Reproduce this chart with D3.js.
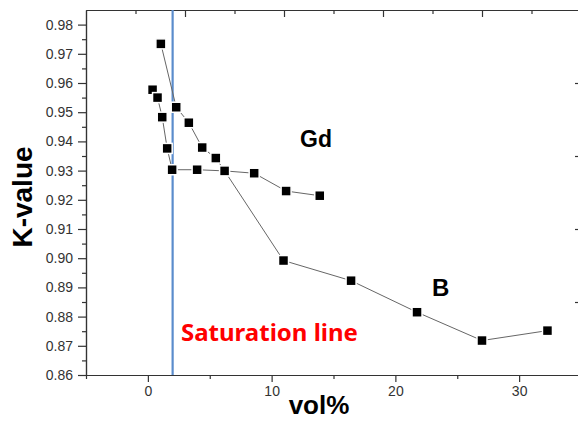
<!DOCTYPE html>
<html>
<head>
    <meta charset="UTF-8">
    <title>K-value vs vol%</title>
    <script src="https://d3js.org/d3.v7.min.js"></script>
    <style>
        body { margin: 0; background: #fff; }
        .axis path, .axis line { stroke: #333; stroke-width: 1.2px; }
        .axis text { font-family: Arial, "Liberation Sans", sans-serif; font-size: 14px; fill: #333; }
        .series { fill: none; stroke: #666; stroke-width: 1px; }
        .marker { fill: #000; stroke: #fff; stroke-width: 1.5px; }
    </style>
</head>
<body>
    <svg width="578" height="421"></svg>
    <script>
        // data
        var gdVol = [0.38, 0.78, 1.16, 1.56, 1.96, 3.98, 6.2, 8.59, 11.17, 13.89];
        var gdK   = [0.9577, 0.955, 0.9483, 0.9376, 0.9303, 0.9303, 0.9299, 0.9291, 0.923, 0.9214];

        var bVol = [1.05, 2.29, 3.31, 4.39, 5.49, 6.2, 10.96, 16.42, 21.75, 27.0, 32.29];
        var bK   = [0.9734, 0.9517, 0.9464, 0.9379, 0.9343, 0.9299, 0.8992, 0.8923, 0.8815, 0.8718, 0.8752];

        var xMajor = [0, 10, 20, 30];
        var xMinor = [-5, 5, 15, 25];
        var yMajor = [0.86, 0.87, 0.88, 0.89, 0.90, 0.91, 0.92, 0.93, 0.94, 0.95, 0.96, 0.97, 0.98];
        var yMinor = [0.865, 0.875, 0.885, 0.895, 0.905, 0.915, 0.925, 0.935, 0.945, 0.955, 0.965, 0.975];
        var topMajor = [0, 2, 4, 6];
        var topMinor = [-1, 1, 3, 5, 7];
        var rightTicks = [1, 2, 3, 4];
        var saturationVol = 2;

        // plot frame (note: "top" is reserved on window)
        var pLeft = 86, pRight = 581, pTop = 10, pBottom = 375;

        var svg = d3.select("svg");

        var x = d3.scaleLinear().domain([-5, 35]).range([pLeft, pRight]);
        var y = d3.scaleLinear().domain([0.86, 0.985]).range([pBottom, pTop]);
        var xTop = d3.scaleLinear().domain([-2, 8]).range([pLeft, pRight]);
        var yRight = d3.scaleLinear().domain([0, 5]).range([pBottom, pTop]);

        // bottom axis
        svg.append("g").attr("class", "axis").attr("transform", "translate(0," + pBottom + ")")
            .call(d3.axisBottom(x).tickValues(xMajor).tickSize(7).tickSizeOuter(0).tickPadding(4));
        svg.append("g").attr("class", "axis").attr("transform", "translate(0," + pBottom + ")")
            .call(d3.axisBottom(x).tickValues(xMinor).tickSize(4).tickSizeOuter(0).tickFormat(""));

        // left axis
        svg.append("g").attr("class", "axis").attr("transform", "translate(" + pLeft + ",0)")
            .call(d3.axisLeft(y).tickValues(yMajor).tickSize(8).tickSizeOuter(0).tickPadding(5).tickFormat(d3.format(".2f")));
        svg.append("g").attr("class", "axis").attr("transform", "translate(" + pLeft + ",0)")
            .call(d3.axisLeft(y).tickValues(yMinor).tickSize(4).tickSizeOuter(0).tickFormat(""));

        // top axis, ticks inward
        svg.append("g").attr("class", "axis").attr("transform", "translate(0," + pTop + ")")
            .call(d3.axisBottom(xTop).tickValues(topMajor).tickSize(7).tickSizeOuter(0).tickFormat(""));
        svg.append("g").attr("class", "axis").attr("transform", "translate(0," + pTop + ")")
            .call(d3.axisBottom(xTop).tickValues(topMinor).tickSize(4).tickSizeOuter(0).tickFormat(""));

        // right axis (mostly off-canvas), ticks inward
        svg.append("g").attr("class", "axis").attr("transform", "translate(" + pRight + ",0)")
            .call(d3.axisLeft(yRight).tickValues(rightTicks).tickSize(6).tickSizeOuter(0).tickFormat(""));

        // saturation line
        svg.append("line")
            .attr("x1", x(saturationVol)).attr("x2", x(saturationVol))
            .attr("y1", pTop).attr("y2", pBottom)
            .style("stroke", "#5b8ccc").style("stroke-width", 2.2);

        function drawSeries(vols, ks) {
            var pts = vols.map(function(v, i) { return [v, ks[i]]; });
            var line = d3.line().x(function(d) { return x(d[0]); }).y(function(d) { return y(d[1]); });
            svg.append("path").datum(pts).attr("class", "series").attr("d", line);
            svg.append("g").selectAll("rect").data(pts).enter().append("rect")
                .attr("class", "marker")
                .attr("x", function(d) { return x(d[0]) - 5; })
                .attr("y", function(d) { return y(d[1]) - 5; })
                .attr("width", 10).attr("height", 10);
        }
        drawSeries(bVol, bK);
        drawSeries(gdVol, gdK);

        // labels
        svg.append("text").text("K-value")
            .attr("transform", "translate(32,197) rotate(-90)")
            .style("text-anchor", "middle")
            .style("font-family", "Arial, 'Liberation Sans', sans-serif")
            .style("font-weight", "bold").style("font-size", "28px").style("fill", "#000");

        svg.append("text").text("vol%")
            .attr("x", 319).attr("y", 414)
            .style("text-anchor", "middle")
            .style("font-family", "Arial, 'Liberation Sans', sans-serif")
            .style("font-weight", "bold").style("font-size", "26px").style("fill", "#000");

        svg.append("text").text("Gd")
            .attr("x", 300).attr("y", 147)
            .style("font-family", "Arial, 'Liberation Sans', sans-serif")
            .style("font-weight", "bold").style("font-size", "23px").style("fill", "#000");

        svg.append("text").text("B")
            .attr("x", 432).attr("y", 296)
            .style("font-family", "Arial, 'Liberation Sans', sans-serif")
            .style("font-weight", "bold").style("font-size", "24px").style("fill", "#000");

        svg.append("text").text("Saturation line")
            .attr("x", 181).attr("y", 341)
            .style("font-family", "'Noto Sans', sans-serif")
            .style("font-weight", "bold").style("font-size", "24px").style("fill", "#ff0000");
    </script>
</body>
</html>
